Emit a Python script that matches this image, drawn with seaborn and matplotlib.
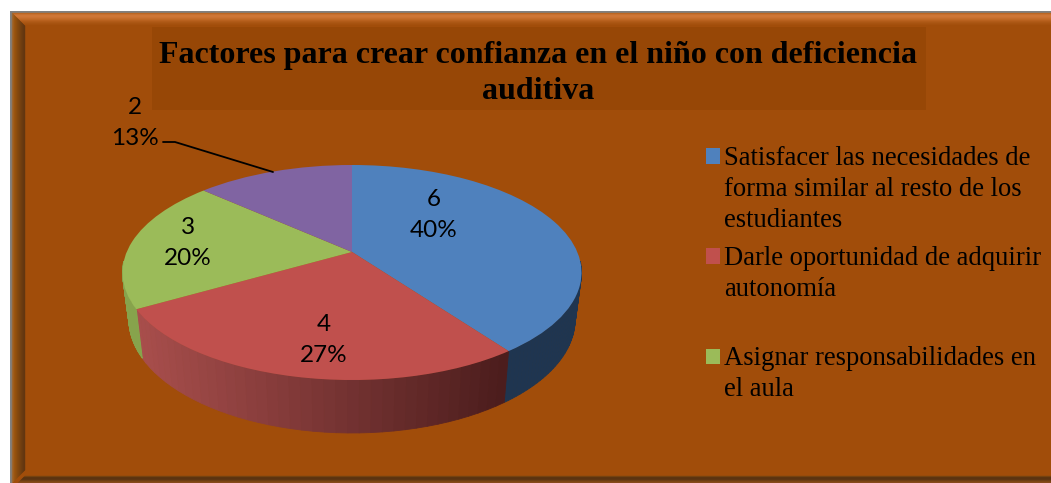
import numpy as np
import matplotlib
matplotlib.use("Agg")
import matplotlib.pyplot as plt
import matplotlib.transforms as mtransforms
import matplotlib.colors as mcolors
import seaborn as sns

# chart data
title = "Factores para crear confianza en el niño con deficiencia\nauditiva"
values = [6, 4, 3, 2]
legend_labels = [
    "Satisfacer las necesidades de\nforma similar al resto de los\nestudiantes",
    "Darle oportunidad de adquirir\nautonomía\n",
    "Asignar responsabilidades en\nel aula\n",
]
slice_colors = ["#4F81BD", "#C0504D", "#9BBB59", "#8064A2"]

W, H = 1051, 483
bg = "#A14D0A"


class PieProjection(mtransforms.Transform):
    # tilted disc: maps the unit circle of ax.pie to canvas pixels
    input_dims = 2
    output_dims = 2
    cx, cy, a, b, p = 352.0, 252.0, 225.3, 103.6, 0.1907

    def transform_non_affine(self, xy):
        xy = np.asarray(xy, dtype=float)
        d = 1 + self.p * xy[:, 1]
        return np.column_stack([self.cx + self.a * xy[:, 0] / d, self.cy - self.b * xy[:, 1] / d])


def rim(theta1, theta2, n=40):
    # top and bottom edges of the pie wall between two angles
    t = np.radians(np.linspace(theta1, theta2, n))
    top = PieProjection().transform_non_affine(np.column_stack([np.cos(t), np.sin(t)]))
    bottom = top.copy()
    bottom[:, 0] = 352 + (top[:, 0] - 352) * 0.972
    bottom[:, 1] = 252 + (top[:, 1] - 252) * 1.056 + 45.8
    return top, bottom


sns.set_theme(style="white")
palette = sns.color_palette(slice_colors)

fig = plt.figure(figsize=(W / 100, H / 100), dpi=100, facecolor="white")
ax = fig.add_axes([0, 0, 1, 1])

wedges, _ = ax.pie(values, colors=palette, startangle=90, counterclock=False,
                   wedgeprops={"linewidth": 0, "zorder": 5})
ax.set_aspect("auto")
ax.set_xlim(0, W)
ax.set_ylim(H, 0)
ax.set_axis_off()

# panel and bevels
ax.fill([10, W, W, 10], [11, 11, H, H], color="#808080", lw=0, zorder=0)
ax.fill([12, W, W, 12], [13, 13, H, H], color=bg, lw=0, zorder=1)
top_band = ["#B9641F", "#C66F2E", "#CE7636", "#CF7737", "#CC7434", "#C76F2D", "#C16A27",
            "#BA6320", "#B35D1A", "#AD5815", "#A85411", "#A4500D"]
for i, c in enumerate(top_band):
    ax.fill([12 + i, W, W, 13 + i], [13 + i, 13 + i, 14 + i, 14 + i], color=c, lw=0.3, zorder=2)
left_band = ["#9A6A3A", "#A0601F", "#9C5714", "#96520F", "#8F4E0E", "#884A0E", "#82470F",
             "#7C440F", "#764110", "#703E10", "#6B3B10", "#663810", "#623610"]
for i, c in enumerate(left_band):
    ax.fill([12 + i, 13 + i, 13 + i, 12 + i], [13 + i, 14 + i, H - i - 1, H - i],
            color=c, lw=0.3, zorder=3)
bottom_band = ["#7A4610", "#5E3510", "#5A3311", "#5C3412", "#6A3C12", "#7A4512", "#85491A"]
for i, c in enumerate(bottom_band):
    ax.fill([25 - i, W, W, 24 - i], [476 + i, 476 + i, 477 + i, 477 + i], color=c, lw=0.3, zorder=3)

# title box
ax.fill([152, 926, 926, 152], [27, 27, 110, 110], color="#974706", lw=0, zorder=3)
ax.text(538, 73.5, title, ha="center", va="center", fontsize=23, fontweight="bold",
        family="Liberation Serif", color="black", linespacing=1.34, zorder=8)

# pie wall, only the front part shows, drawn under the top face
wall_left = np.array(mcolors.to_rgb("#A84E4C"))
wall_right = np.array(mcolors.to_rgb("#4A1C1C"))
for w, name in zip(wedges, ["#1F3550", "red", "#87A34C", "#6A5488"]):
    lo, hi = max(w.theta1, -175), min(w.theta2, -5)
    if lo >= hi:
        continue
    top, bottom = rim(lo, hi)
    for k in range(len(top) - 1):
        if name == "red":
            f = np.clip((top[k, 0] - 136) / (507 - 136), 0, 1)
            col = wall_left + (wall_right - wall_left) * f
        else:
            col = name
        ax.fill([top[k, 0], top[k + 1, 0], bottom[k + 1, 0], bottom[k, 0]],
                [top[k, 1], top[k + 1, 1], bottom[k + 1, 1], bottom[k, 1]],
                color=col, lw=0.6, zorder=4)

proj = PieProjection() + ax.transData
for w in wedges:
    w.set_transform(proj)

# data labels
total = sum(values)
label_pos = [(434, 215), (324, 340), (188, 243), (135, 123)]
for v, (x, y) in zip(values, label_pos):
    ax.text(x, y, f"{v}\n{round(v / total * 100)}%", ha="center", va="center", fontsize=17.5,
            family="Lato", color="black", linespacing=1.57, zorder=8)
ax.plot([163, 175, 273], [142, 142, 172], color="black", lw=1.3, zorder=8)

# legend, three lines per entry like the original
leg = ax.legend(wedges[:3], legend_labels, loc="upper left", bbox_to_anchor=(706 / W, 1 - 146 / H),
                frameon=False, prop={"family": "Liberation Serif", "size": 19.2},
                handlelength=0.52, handleheight=0.52, handletextpad=0.16,
                labelspacing=0.5, borderpad=0, borderaxespad=0, labelcolor="black")
for t in leg.get_texts():
    t.set_linespacing(1.31)
for h in leg.legend_handles:
    h.set_y(h.get_y() + 24)
leg.set_zorder(9)

fig.savefig("out.png", dpi=100)
